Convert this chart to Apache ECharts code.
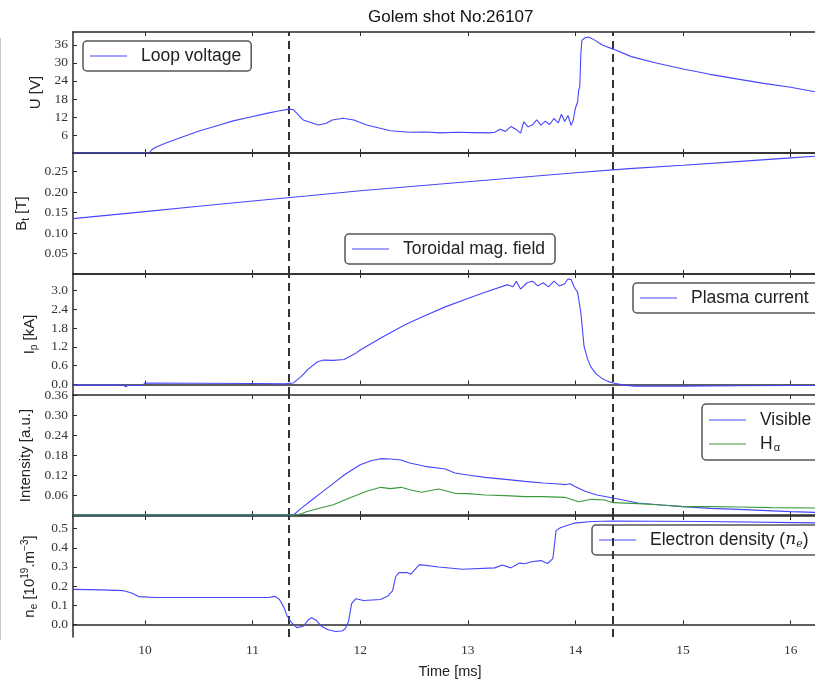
<!DOCTYPE html>
<html>
<head>
<meta charset="utf-8">
<script src="https://cdn.jsdelivr.net/npm/echarts@6/dist/echarts.min.js"></script>
<style>
  html, body { margin: 0; padding: 0; background: #fff; }
  #main { width: 815px; height: 681px; }
</style>
</head>
<body>
<div id="main"></div>
<script>
// time axis (ms)
const tMin = 9.331, tMax = 16.226;
const xTicks = [10, 11, 12, 13, 14, 15, 16];
const dashTimes = [11.342, 14.35];

// loop voltage [V]
const uT = [9.331, 10.04, 10.06, 10.1, 10.2, 10.36, 10.51, 10.67, 10.82, 10.98, 11.13, 11.24, 11.34, 11.38, 11.47, 11.61, 11.68, 11.74, 11.84, 11.94, 12.06, 12.28, 12.46,
  12.6, 12.75, 12.9, 13.05, 13.2, 13.25, 13.3, 13.35, 13.4, 13.45, 13.49, 13.52, 13.56, 13.6, 13.64, 13.68, 13.72, 13.76, 13.8, 13.84,
  13.87, 13.9, 13.93, 13.96, 13.98, 14.0, 14.02, 14.03, 14.04, 14.05, 14.06, 14.09, 14.12, 14.16, 14.25, 14.35, 14.52, 14.75, 15.0,
  15.25, 15.51, 15.75, 16.0, 16.226];
const uV = [0, 0, 1.0, 1.9, 3.4, 5.5, 7.4, 9.1, 10.7, 12.0, 13.2, 14.0, 14.6, 14.4, 11.0, 9.3, 9.8, 11.0, 11.6, 11.0, 9.3, 7.4, 6.9,
  7.0, 6.7, 6.9, 6.8, 6.7, 6.9, 7.9, 7.2, 8.8, 7.8, 6.6, 10.4, 8.7, 9.4, 11.0, 9.3, 10.6, 9.5, 11.5, 10.0,
  12.9, 10.5, 12.5, 9.2, 11.0, 15.0, 17.0, 21.0, 22.0, 33.0, 37.5, 38.4, 38.6, 38.0, 36.0, 34.6, 32.1, 30.0, 28.0,
  26.2, 24.6, 23.2, 21.9, 20.4];

// toroidal magnetic field [T]
const btT = [9.331, 10, 10.5, 11, 11.5, 12, 12.5, 13, 13.5, 14, 14.5, 15, 15.5, 16, 16.226];
const btV = [0.135, 0.152, 0.165, 0.178, 0.19, 0.203, 0.214, 0.225, 0.236, 0.247, 0.257, 0.265, 0.274, 0.283, 0.287];

// plasma current [kA]
const ipT = [9.331, 9.8, 9.82, 9.84, 9.98, 10.0, 10.5, 11.0, 11.3, 11.38, 11.45, 11.52, 11.6, 11.66, 11.75, 11.85, 11.95, 12.0,
  12.2, 12.42, 12.6, 12.79, 13.0, 13.16, 13.37, 13.42, 13.45, 13.49, 13.55, 13.6, 13.65, 13.7, 13.75, 13.8, 13.85, 13.9, 13.93,
  13.96, 13.99, 14.02, 14.05, 14.08, 14.11, 14.14, 14.19, 14.24, 14.3, 14.35, 14.45, 14.55, 15.0, 15.5, 16.0, 16.226];
const ipV = [-0.02, -0.02, -0.07, -0.03, -0.03, 0.05, 0.04, 0.03, 0.02, 0.05, 0.25, 0.5, 0.72, 0.78, 0.77, 0.8, 0.98, 1.1,
  1.5, 1.92, 2.2, 2.48, 2.75, 2.95, 3.19, 3.12, 3.3, 3.05, 3.25, 3.3, 3.15, 3.25, 3.12, 3.3, 3.15, 3.22, 3.37,
  3.35, 3.1, 2.95, 2.3, 1.22, 0.85, 0.58, 0.35, 0.21, 0.1, 0.05, -0.02, -0.05, -0.05, -0.04, -0.03, -0.03];

// intensity [a.u.]
const visT = [9.331, 11.38, 11.45, 11.55, 11.63, 11.75, 11.85, 12.0, 12.1, 12.19, 12.28, 12.38, 12.46, 12.6, 12.79, 12.88, 13.0,
  13.16, 13.35, 13.53, 13.7, 13.85, 13.9, 13.95, 14.0, 14.09, 14.2, 14.35, 14.58, 14.8, 15.0, 15.25, 15.51, 16.0, 16.226];
const visV = [0, 0, 0.02, 0.045, 0.065, 0.095, 0.12, 0.151, 0.163, 0.169, 0.168, 0.165, 0.156, 0.146, 0.138, 0.126, 0.12,
  0.113, 0.107, 0.101, 0.096, 0.093, 0.091, 0.094, 0.085, 0.071, 0.06, 0.051, 0.036, 0.03, 0.025, 0.02, 0.017, 0.01, 0.008];
const haT = [9.331, 11.42, 11.5, 11.63, 11.75, 11.9, 12.06, 12.19, 12.28, 12.38, 12.46, 12.57, 12.73, 12.88, 13.0, 13.16, 13.35,
  13.53, 13.7, 13.9, 14.03, 14.15, 14.27, 14.35, 14.58, 14.8, 15.0, 15.25, 15.51, 15.82, 16.226];
const haV = [0, 0, 0.01, 0.021, 0.031, 0.051, 0.071, 0.083, 0.079, 0.083, 0.076, 0.068, 0.078, 0.065, 0.064, 0.06, 0.058,
  0.055, 0.055, 0.053, 0.04, 0.047, 0.045, 0.037, 0.034, 0.03, 0.025, 0.025, 0.024, 0.022, 0.021];

// electron density [1e19 m^-3]
const neT = [9.331, 9.6, 9.8, 9.87, 9.94, 10.1, 11.15, 11.21, 11.25, 11.29, 11.32, 11.36, 11.41, 11.47, 11.52, 11.55, 11.59, 11.64,
  11.7, 11.77, 11.83, 11.86, 11.89, 11.92, 11.96, 12.03, 12.19, 12.26, 12.3, 12.33, 12.36, 12.44, 12.47, 12.55, 12.73, 12.95, 13.25,
  13.32, 13.4, 13.48, 13.53, 13.59, 13.68, 13.74, 13.79, 13.82, 13.86, 13.99, 14.15, 14.35, 15.2, 16.226];
const neV = [0.183, 0.18, 0.176, 0.165, 0.145, 0.14, 0.14, 0.146, 0.13, 0.09, 0.045, 0.01, -0.017, -0.01, 0.025, 0.035, 0.022, -0.01,
  -0.028, -0.037, -0.035, -0.023, 0.012, 0.108, 0.134, 0.125, 0.13, 0.15, 0.175, 0.25, 0.27, 0.27, 0.262, 0.312, 0.3, 0.288, 0.295,
  0.31, 0.295, 0.32, 0.317, 0.327, 0.333, 0.318, 0.343, 0.491, 0.505, 0.529, 0.537, 0.54, 0.537, 0.53];

// y tick labels
const uTicks = [6, 12, 18, 24, 30, 36];
const btTicks = [0.05, 0.10, 0.15, 0.20, 0.25];
const ipTicks = [0.0, 0.6, 1.2, 1.8, 2.4, 3.0];
const intTicks = [0.06, 0.12, 0.18, 0.24, 0.30, 0.36];
const neTicks = [0.0, 0.1, 0.2, 0.3, 0.4, 0.5];

const BLUE = '#4646ff';
const GREEN = '#3c9a3c';
const SANS = 'Liberation Sans';
const SERIF = 'Liberation Serif';

const zip = (xs, ys) => xs.map((x, i) => [x, ys[i]]);

const panels = [
  { name: '{a|U [V]}', min: 0, max: 40.3, ticks: uTicks, dec: 0, gap: 28 },
  { name: '{a|B}{s|t}{a| [T]}', min: 0, max: 0.295, ticks: btTicks, dec: 2, gap: 42 },
  { name: '{a|I}{s|p}{a| [kA]}', min: -0.335, max: 3.53, ticks: ipTicks, dec: 1, gap: 34 },
  { name: '{a|Intensity [a.u.]}', min: -0.003, max: 0.36, ticks: intTicks, dec: 2, gap: 38 },
  { name: '{a|n}{s|e}{a| [10}{p|19}{a|.m}{p|\u22123}{a|]}', min: -0.066, max: 0.566, ticks: neTicks, dec: 1, gap: 34 }
];

const nameRich = {
  a: { fontFamily: SANS, fontSize: 15, color: '#222' },
  s: { fontFamily: SANS, fontSize: 10, color: '#222', padding: [9, 0, 0, 0] },
  p: { fontFamily: SANS, fontSize: 10, color: '#222', padding: [0, 0, 9, 0] }
};

const spine = { show: true, lineStyle: { color: '#2a2a2a', width: 1.5 } };
const tick = { show: true, inside: true, length: 4, lineStyle: { color: '#2a2a2a', width: 1 } };

const grids = [], xAxes = [], yAxes = [];
panels.forEach((p, i) => {
  grids.push({ left: 73, right: 0, top: 32 + 121 * i, height: 121, containLabel: false });
  const last = i === panels.length - 1;
  xAxes.push({
    type: 'value', gridIndex: i, min: tMin, max: tMax, position: 'bottom',
    axisLine: spine, splitLine: { show: false },
    axisTick: Object.assign({ customValues: xTicks }, tick),
    axisLabel: { show: last, customValues: xTicks, margin: 6, fontFamily: SERIF, fontSize: 13.5, color: '#333' },
    name: last ? 'Time [ms]' : '', nameLocation: 'middle', nameGap: 27,
    nameTextStyle: { fontFamily: SANS, fontSize: 14.5, color: '#222', padding: [0, 0, 0, 12] }
  });
  xAxes.push({
    type: 'value', gridIndex: i, min: tMin, max: tMax, position: 'top',
    axisLine: spine, splitLine: { show: false },
    axisTick: Object.assign({ customValues: xTicks }, tick),
    axisLabel: { show: false }
  });
  yAxes.push({
    type: 'value', gridIndex: i, min: p.min, max: p.max,
    axisLine: spine, splitLine: { show: false },
    axisTick: Object.assign({ customValues: p.ticks }, tick),
    axisLabel: {
      customValues: p.ticks, margin: 5, fontFamily: SERIF, fontSize: 13.5, color: '#333',
      formatter: v => Number(v).toFixed(p.dec)
    },
    name: p.name, nameLocation: 'middle', nameGap: p.gap, nameRotate: 90,
    nameTextStyle: { rich: nameRich }
  });
});

const dashMark = {
  silent: true, symbol: 'none', label: { show: false }, animation: false,
  lineStyle: { color: '#333', width: 2, type: [8, 5] },
  data: dashTimes.map(x => ({ xAxis: x }))
};

function line(name, panel, t, v, color, mark) {
  const s = {
    name, type: 'line', xAxisIndex: panel * 2, yAxisIndex: panel,
    data: zip(t, v), symbol: 'none', z: 5,
    color, lineStyle: { color, width: 1.1 }
  };
  if (mark) s.markLine = dashMark;
  return s;
}

const NE_NAME = 'Electron density (ne)';
const series = [
  line('Loop voltage', 0, uT, uV, BLUE, true),
  line('Toroidal mag. field', 1, btT, btV, BLUE, true),
  line('Plasma current', 2, ipT, ipV, BLUE, true),
  line('Visible', 3, visT, visV, BLUE, true),
  line('H\u03b1', 3, haT, haV, GREEN, false),
  line(NE_NAME, 4, neT, neV, BLUE, true)
];

const legendText = {
  fontFamily: SANS, fontSize: 17.5, color: '#222', lineHeight: 20, padding: [0, 0, 0, 9],
  rich: {
    t: { fontFamily: SANS, fontSize: 17.5, color: '#222' },
    s: { fontFamily: SANS, fontSize: 11, color: '#222', padding: [8, 0, 0, 1] },
    i: { fontFamily: 'DejaVu Serif', fontStyle: 'italic', fontSize: 17, color: '#222' },
    e: { fontFamily: 'DejaVu Serif', fontStyle: 'italic', fontSize: 11, color: '#222', padding: [8, 0, 0, 0] }
  }
};
function legendLabel(name) {
  if (name === 'H\u03b1') return '{t|H}{s|\u03b1}';
  if (name === NE_NAME) return '{t|Electron density (}{i|n}{e|e}{t|)}';
  return name;
}
const legendBase = {
  selectedMode: false, icon: 'rect', itemWidth: 37, itemHeight: 1.2, itemGap: 4,
  padding: [5, 10, 5, 7], borderColor: '#555', borderWidth: 1.5, borderRadius: 4,
  backgroundColor: '#fff', textStyle: legendText, formatter: legendLabel
};
const legends = [
  { data: ['Loop voltage'], left: 83, top: 41 },
  { data: ['Toroidal mag. field'], left: 345, top: 234 },
  { data: ['Plasma current'], left: 633, top: 283 },
  { data: ['Visible', 'H\u03b1'], left: 702, top: 404, orient: 'vertical', padding: [6, 10, 6, 7] },
  { data: [NE_NAME], left: 592, top: 525 }
].map(l => Object.assign({}, legendBase, l));

const myChart = echarts.init(document.getElementById('main'));
myChart.setOption({
  animation: false,
  backgroundColor: '#fff',
  title: {
    text: 'Golem shot No:26107', left: 363, top: 4,
    textStyle: { fontFamily: SANS, fontSize: 17, fontWeight: 'normal', color: '#111' }
  },
  graphic: [{
    type: 'line', shape: { x1: 0.5, y1: 38, x2: 0.5, y2: 640 },
    style: { stroke: '#c8c8c8', lineWidth: 1 }, silent: true
  }],
  legend: legends,
  grid: grids,
  xAxis: xAxes,
  yAxis: yAxes,
  series
});
</script>
</body>
</html>
